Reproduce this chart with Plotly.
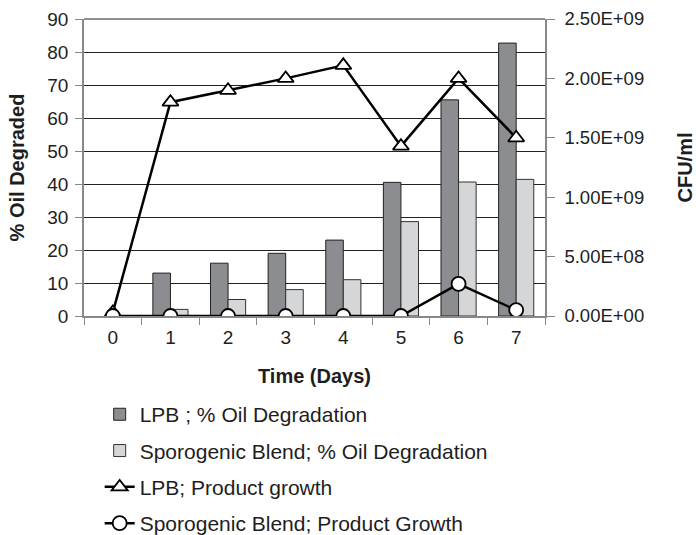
import plotly.graph_objects as go

days = ["0", "1", "2", "3", "4", "5", "6", "7"]
lpb_oil = [None, 13, 16, 19, 23, 40.5, 65.5, 82.7]
spor_oil = [None, 2, 5, 8, 11, 28.6, 40.6, 41.4]
lpb_growth = [0.03e9, 1.80e9, 1.90e9, 2.00e9, 2.11e9, 1.43e9, 2.00e9, 1.50e9]
spor_growth = [0, 0, 0, 0, 0, 0, 0.27e9, 0.05e9]
right_vals = [0, 0.5e9, 1.0e9, 1.5e9, 2.0e9, 2.5e9]
right_text = ["0.00E+00", "5.00E+08", "1.00E+09", "1.50E+09", "2.00E+09", "2.50E+09"]

FONT = "Liberation Sans, Arial, sans-serif"
TXT = "#1e1e1e"

fig = go.Figure()
fig.add_trace(go.Bar(x=days, y=lpb_oil, name="LPB ; % Oil Degradation",
                     marker=dict(color="#8c8d90", line=dict(color="#222", width=1)),
                     legendgroup="a"))
fig.add_trace(go.Bar(x=days, y=spor_oil, name="Sporogenic Blend; % Oil Degradation",
                     marker=dict(color="#d5d6d8", line=dict(color="#333", width=1)),
                     legendgroup="b"))
fig.add_trace(go.Scatter(x=days, y=lpb_growth, name="LPB; Product growth", yaxis="y2",
                         mode="lines+markers",
                         line=dict(color="black", width=2.5),
                         marker=dict(symbol="triangle-up", size=14, color="white",
                                     line=dict(color="black", width=1.8)),
                         legendgroup="c"))
fig.add_trace(go.Scatter(x=days, y=spor_growth, name="Sporogenic Blend; Product Growth", yaxis="y2",
                         mode="lines+markers",
                         line=dict(color="black", width=2.5),
                         marker=dict(symbol="circle", size=14, color="white",
                                     line=dict(color="black", width=1.8)),
                         legendgroup="d"))

fig.update_layout(
    width=696, height=535,
    margin=dict(l=84, r=151, t=19, b=219, autoexpand=False),
    paper_bgcolor="white", plot_bgcolor="white",
    font=dict(family=FONT, size=19, color=TXT),
    barmode="group", bargap=0.39, bargroupgap=0,
    showlegend=True,
    legend=dict(x=0.034, y=-0.263, xanchor="left", yanchor="top",
                font=dict(size=21, color=TXT), tracegroupgap=6,
                bgcolor="rgba(0,0,0,0)"),
    xaxis=dict(type="category", range=[-0.5, 7.5], tickson="boundaries",
               ticks="outside", ticklen=7, tickcolor="#888", automargin=False,
               showline=True, linecolor="#888", linewidth=1.5, showgrid=False,
               ticklabelstandoff=3,
               title=dict(text="<b>Time (Days)</b>", font=dict(size=20, color=TXT), standoff=22),
               tickfont=dict(size=19)),
    yaxis=dict(range=[0, 90], dtick=10, showgrid=True, gridcolor="#222", gridwidth=1,
               showline=True, linecolor="#888", linewidth=1.5, ticks="outside",
               ticklen=7, tickcolor="#888", zeroline=False, automargin=False,
               ticklabelstandoff=3,
               title=dict(text="<b>% Oil Degraded</b>", font=dict(size=20, color=TXT), standoff=17),
               tickfont=dict(size=19)),
    yaxis2=dict(range=[0, 2.5e9], overlaying="y", side="right",
                tickvals=right_vals, ticktext=right_text, showgrid=False,
                showline=True, linecolor="#888", linewidth=1.5, ticks="outside",
                ticklen=8, tickcolor="#888", zeroline=False, automargin=False,
                ticklabelstandoff=6,
                title=dict(text="<b>CFU/ml</b>", font=dict(size=20, color=TXT), standoff=44),
                tickfont=dict(size=18.5)),
)
fig.add_shape(type="line", xref="paper", yref="paper", x0=0, x1=1, y0=1, y1=1,
              line=dict(color="#222", width=1))

fig.write_html("out.html", config={"displayModeBar": False},
               post_script="document.body.style.margin='0';")
